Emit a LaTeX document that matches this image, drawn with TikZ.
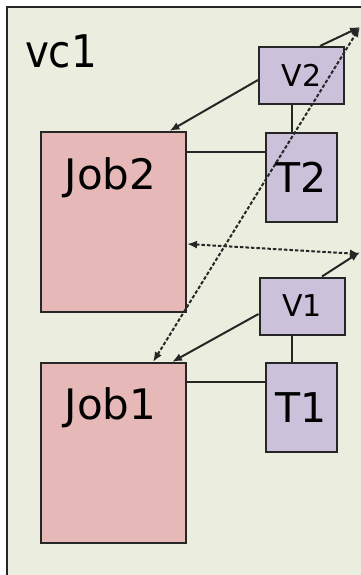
\documentclass[tikz,border=0pt]{standalone}
\usepackage{fontspec}
\setmainfont{DejaVu Sans}
\newfontfamily\condfont{DejaVu Sans Condensed}
\usepackage{xcolor}
\usepackage{tikz}
\usetikzlibrary{arrows.meta,positioning}

\definecolor{vcback}{HTML}{EBEEDE}
\definecolor{jobfill}{HTML}{E6B8B7}
\definecolor{taskfill}{HTML}{CCC1DA}
\definecolor{edgegray}{HTML}{262626}

\begin{document}
\begin{tikzpicture}
          [x=1pt,y=-1pt,line width=2pt,draw=edgegray,
           arr/.style={-{Latex[length=10pt,width=8pt]}},
           darr/.style={{Latex[length=10pt,width=8pt]}-{Latex[length=10pt,width=8pt]},dash pattern=on 3.5pt off 2pt},
           box/.style={draw=edgegray,line width=2pt,inner sep=0pt,minimum width=#1},
           job/.style={box=145pt,fill=jobfill,minimum height=180pt},
           task/.style={box=71pt,fill=taskfill,minimum height=89pt,font=\fontsize{41}{41}\selectfont},
           vbox/.style={box=85pt,fill=taskfill,minimum height=57pt,font=\fontsize{30}{30}\selectfont}]
          \useasboundingbox (0,0) rectangle (361,575);
          \clip (0,0) rectangle (361,575);
          \fill[white] (0,0) rectangle (361,575);
          \draw[edgegray,fill=vcback,line width=2.4pt] (7,7) rectangle (380,600);
          \node[anchor=base west,inner sep=0pt,font=\condfont\fontsize{45}{45}\selectfont] (vc) at (24,68) {vc1};

          % jobs and their tasks
          \node[job] (job2) at (113.5,222) {};
          \node[job] (job1) at (113.5,453) {};
          \node[inner sep=0pt,font=\fontsize{42}{42}\selectfont] (job2txt) [below=58pt of job2.north,anchor=base,xshift=-3pt] {Job2};
          \node[inner sep=0pt,font=\fontsize{42}{42}\selectfont] (job1txt) [below=57pt of job1.north,anchor=base,xshift=-3pt] {Job1};
          \node[task] (t2) at (301.5,177.5) {T2};
          \node[task] (t1) at (301.5,407.5) {T1};
          \node[vbox] (v2) at (301.5,75.5) {V2};
          \node[vbox] (v1) at (302,306) {V1};
          \coordinate (ext2) at (360,27);
          \coordinate (ext1) at (360,252);

          \draw ([xshift=-9.5pt]v2.south) -- ([xshift=-9.5pt]t2.north);
          \draw ([xshift=-10pt]v1.south) -- ([xshift=-9.5pt]t1.north);
          \draw ([yshift=-21pt]job2.north east) -- ([yshift=-20pt]t2.north west);
          \draw ([yshift=-20pt]job1.north east) -- ([yshift=-20pt]t1.north west);

          \draw[arr] ([yshift=-4.5pt]v2.west) -- ([xshift=56pt]job2.north);
          \draw[arr] ([xshift=18.5pt]v2.north) -- (ext2);
          \draw[arr] ([yshift=-8pt]v1.west) -- ([xshift=58.5pt]job1.north);
          \draw[arr] ([xshift=20pt]v1.north) -- (ext1);
          \draw[darr] ([xshift=39.5pt]job1.north) -- (ext2);
          \draw[darr] ([yshift=-22pt]job2.east) -- ([yshift=-2pt]ext1);
        \end{tikzpicture}
\end{document}
